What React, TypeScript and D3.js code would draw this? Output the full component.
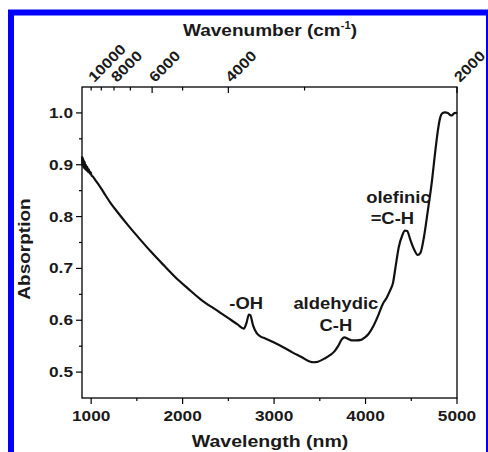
import * as d3 from "d3";
import { useEffect, useRef } from "react";

// spectrum (nm, absorption); the start is a noisy band
const wavelength = [
  900, 903, 906, 909, 913, 917, 921, 926, 931, 937, 943, 950, 958, 966, 975,
  985, 995, 1005, 1020, 1040, 1060, 1080, 1100, 1150, 1221, 1300, 1400, 1535,
  1650, 1800, 1950, 2060, 2200, 2375, 2500, 2600, 2670, 2700, 2725, 2740,
  2770, 2810, 2849, 2903, 3000, 3100, 3200, 3300, 3396, 3432, 3480, 3550,
  3615, 3660, 3700, 3740, 3768, 3810, 3850, 3900, 3950, 3985, 4030, 4089,
  4140, 4190, 4230, 4270, 4300, 4330, 4363, 4400, 4430, 4455, 4490, 4530,
  4570, 4600, 4640, 4680, 4720, 4760, 4790, 4815, 4838, 4870, 4900, 4925,
  4945, 4965, 4985, 5000,
];
const absorption = [
  0.916, 0.899, 0.915, 0.897, 0.912, 0.895, 0.908, 0.893, 0.905, 0.891,
  0.9, 0.889, 0.896, 0.886, 0.891, 0.883, 0.886, 0.879, 0.877, 0.872, 0.867,
  0.862, 0.857, 0.843, 0.824, 0.806, 0.784, 0.756, 0.733, 0.705, 0.678, 0.661,
  0.64, 0.619, 0.604, 0.592, 0.584, 0.596, 0.611, 0.61, 0.59, 0.575, 0.569,
  0.565, 0.557, 0.548, 0.538, 0.529, 0.52, 0.519, 0.52, 0.526, 0.533, 0.54,
  0.55, 0.563, 0.567, 0.564, 0.561, 0.561, 0.562, 0.566, 0.573, 0.59, 0.61,
  0.632, 0.643, 0.658, 0.672, 0.705, 0.741, 0.763, 0.773, 0.772, 0.755,
  0.737, 0.726, 0.73, 0.762, 0.81, 0.86, 0.922, 0.965, 0.99, 0.999, 1.001,
  1.0, 0.996, 0.995, 0.999, 1.0, 0.999,
];

const bottomTicks = [1000, 2000, 3000, 4000, 5000];
const bottomMinor = [1500, 2500, 3500, 4500];
const leftTicks = [0.5, 0.6, 0.7, 0.8, 0.9, 1.0];
const leftMinor = [0.55, 0.65, 0.75, 0.85, 0.95];
const topLabels = [10000, 8000, 6000, 4000, 2000];
const topMajor = [6000, 4000, 2000];
const topMinor = [10000, 9000, 8000, 7000, 5000, 3000];

const annotations = [
  { text: "-OH", x: 2695, y: 0.621 },
  { text: "aldehydic", x: 3675, y: 0.621 },
  { text: "C-H", x: 3675, y: 0.579 },
  { text: "olefinic", x: 4360, y: 0.827 },
  { text: "=C-H", x: 4293, y: 0.786 },
];

const FONT = "'Liberation Sans', Arial, sans-serif";
const SX = 1.15;

export default function App() {
  const ref = useRef<SVGSVGElement>(null);

  useEffect(() => {
    const svg = d3.select(ref.current);
    svg.selectAll("*").remove();

    const left = 82, right = 457, top = 87, bottom = 398;

    const x = d3.scaleLinear().domain([900, 5000]).range([left, right]);
    const y = d3.scaleLinear().domain([0.45, 1.05]).range([bottom, top]);

    // blue frame
    svg.append("rect")
      .attr("x", 11).attr("y", 12.5)
      .attr("width", 478).attr("height", 460)
      .attr("fill", "none")
      .attr("stroke", "#0000ff")
      .attr("stroke-width", 6);

    const g = svg.append("g");

    // plot box
    g.append("rect")
      .attr("x", left).attr("y", top)
      .attr("width", right - left).attr("height", bottom - top)
      .attr("fill", "none")
      .attr("stroke", "#000")
      .attr("stroke-width", 1.3);

    const tick = (x1: number, y1: number, x2: number, y2: number) =>
      g.append("line")
        .attr("x1", x1).attr("y1", y1).attr("x2", x2).attr("y2", y2)
        .attr("stroke", "#000").attr("stroke-width", 1.2);

    const label = (txt: string, tx: number, ty: number, anchor: string, size: number, rot = 0) =>
      g.append("text")
        .attr("transform", `translate(${tx},${ty}) rotate(${rot}) scale(${SX},1)`)
        .attr("text-anchor", anchor)
        .style("font-family", FONT)
        .style("font-weight", "700")
        .style("font-size", `${size}px`)
        .style("fill", "#1a1a1a")
        .text(txt);

    // bottom axis
    bottomTicks.forEach((d) => {
      tick(x(d), bottom, x(d), bottom + 6);
      label(String(d), x(d), 421, "middle", 15);
    });
    bottomMinor.forEach((d) => tick(x(d), bottom, x(d), bottom + 3));

    // left axis
    leftTicks.forEach((d) => {
      tick(left - 6, y(d), left, y(d));
      label(d.toFixed(1), 73, y(d) + 5, "end", 15);
    });
    leftMinor.forEach((d) => tick(left - 3, y(d), left, y(d)));

    // top axis (wavenumber = 1e7 / wavelength)
    const xw = (wn: number) => x(1e7 / wn);
    topMajor.forEach((d) => tick(xw(d), top, xw(d), top + 6));
    topMinor.forEach((d) => tick(xw(d), top, xw(d), top + 3.5));
    topLabels.forEach((d) => label(String(d), xw(d) + 3, top - 4, "start", 14.5, -45));

    // titles
    const t1 = g.append("text")
      .attr("transform", `translate(270,36) scale(1.12,1)`)
      .attr("text-anchor", "middle")
      .style("font-family", FONT)
      .style("font-weight", "700")
      .style("font-size", "17px")
      .style("fill", "#1a1a1a");
    t1.append("tspan").text("Wavenumber (cm");
    t1.append("tspan").attr("dy", -7).style("font-size", "10px").text("-1");
    t1.append("tspan").attr("dy", 7).text(")");

    label("Wavelength (nm)", 270, 447, "middle", 17);

    g.append("text")
      .attr("transform", `translate(30,249) rotate(-90) scale(1.12,1)`)
      .attr("text-anchor", "middle")
      .style("font-family", FONT)
      .style("font-weight", "700")
      .style("font-size", "17px")
      .style("fill", "#1a1a1a")
      .text("Absorption");

    // spectrum
    const pts = wavelength.map((w, i) => [w, absorption[i]] as [number, number]);
    const line = d3.line<[number, number]>()
      .x((d) => x(d[0]))
      .y((d) => y(d[1]))
      .curve(d3.curveMonotoneX);

    g.append("path")
      .datum(pts)
      .attr("d", line)
      .attr("fill", "none")
      .attr("stroke", "#111")
      .attr("stroke-width", 2.2)
      .attr("stroke-linejoin", "round");

    // peak labels
    annotations.forEach((a) => label(a.text, x(a.x), y(a.y), "middle", 16));
  }, []);

  return (
    <svg
      ref={ref}
      width={488}
      height={452}
      style={{ position: "absolute", left: 0, top: 0, background: "#fff" }}
    />
  );
}
